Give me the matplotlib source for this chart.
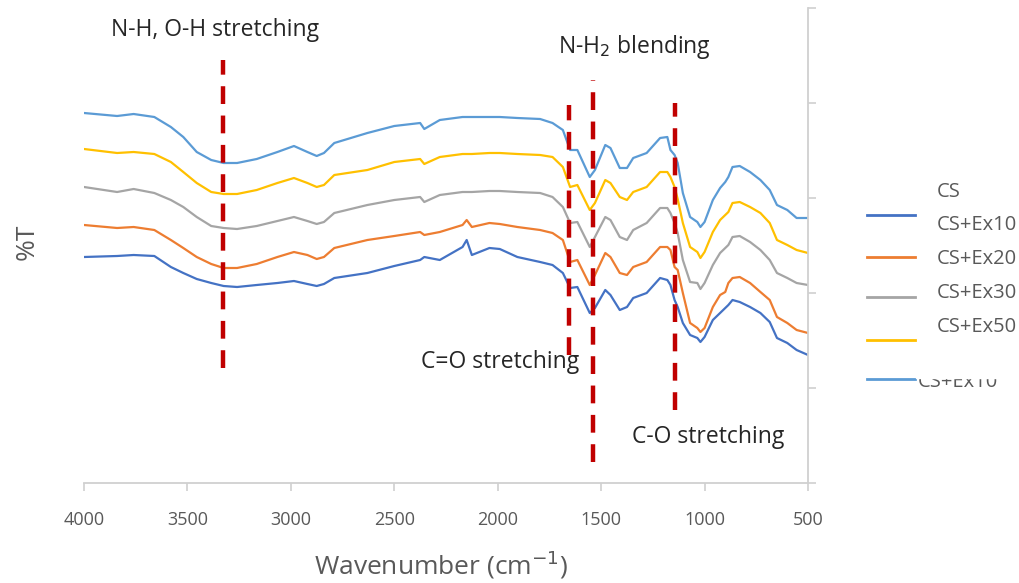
import matplotlib
matplotlib.use('Agg')
import matplotlib.pyplot as plt
from matplotlib.patches import Rectangle
from matplotlib.lines import Line2D

plt.rcParams['font.family'] = ['Open Sans', 'DejaVu Sans']

# wavenumbers (cm-1) where the spectra were read
wavenumber = [4000, 3840, 3760, 3660, 3580, 3520, 3455, 3385, 3325, 3260,
              3165, 3065, 2985, 2920, 2875, 2840, 2790,
              2630, 2500, 2375, 2355, 2280, 2170, 2150, 2125, 2040, 1990,
              1905, 1795, 1735, 1685, 1650, 1615, 1555, 1530, 1480, 1455,
              1410, 1375, 1345, 1280, 1215, 1180,
              1165, 1145, 1130, 1105, 1070, 1035, 1020, 1000, 960, 925,
              900, 885, 865, 830, 780, 730, 685, 650, 600, 555, 500]

# %T (arbitrary offset units, y axis is unlabelled)
cs_ex10 = [226, 227, 228, 227, 216, 210, 204, 200, 197, 196,
           198, 200, 202, 199, 197, 199, 205,
           210, 217, 223, 226, 223, 236, 243, 228, 235, 234,
           226, 221, 218, 210, 195, 196, 170, 175, 193, 188,
           173, 176, 185, 190, 205, 203,
           198, 183, 176, 160, 148, 145, 141, 146, 163, 170,
           175, 178, 183, 181, 176, 170, 161, 145, 140, 133, 128]
cs_ex20 = [258, 255, 256, 253, 243, 235, 226, 219, 215, 215,
           219, 226, 231, 228, 224, 226, 235,
           243, 247, 251, 248, 251, 258, 263, 256, 260, 259,
           256, 253, 250, 243, 221, 223, 198, 208, 230, 226,
           210, 208, 216, 221, 236, 236,
           233, 216, 213, 190, 160, 155, 151, 155, 176, 188,
           191, 200, 205, 206, 200, 191, 183, 166, 160, 153, 150]
cs_ex30 = [296, 291, 294, 290, 283, 276, 266, 257, 255, 254,
           257, 262, 266, 262, 259, 261, 270,
           278, 283, 286, 281, 288, 291, 291, 291, 292, 292,
           291, 290, 286, 276, 260, 261, 236, 246, 266, 263,
           246, 243, 253, 260, 275, 275,
           270, 260, 250, 223, 201, 200, 194, 200, 218, 230,
           235, 238, 246, 247, 241, 233, 223, 210, 205, 200, 198]
cs_ex50 = [334, 330, 331, 329, 321, 311, 300, 291, 289, 289,
           293, 300, 305, 300, 296, 298, 308,
           313, 321, 324, 319, 326, 329, 329, 329, 330, 330,
           329, 328, 326, 316, 296, 298, 273, 280, 303, 300,
           286, 283, 291, 296, 311, 311,
           306, 296, 284, 260, 236, 231, 225, 231, 251, 263,
           268, 271, 280, 281, 276, 270, 260, 243, 238, 233, 230]
cs_ex10b = [370, 367, 369, 366, 356, 346, 331, 323, 320, 320,
            324, 331, 337, 331, 327, 330, 340,
            350, 357, 360, 354, 363, 366, 366, 366, 366, 366,
            365, 364, 360, 353, 333, 333, 306, 313, 338, 335,
            315, 315, 325, 330, 345, 346,
            333, 328, 320, 290, 266, 261, 256, 261, 283, 295,
            301, 306, 316, 317, 311, 303, 293, 278, 273, 265, 265]

series = [cs_ex10, cs_ex20, cs_ex30, cs_ex50, cs_ex10b]
colors = ['#4472C4', '#ED7D31', '#A5A5A5', '#FFC000', '#5B9BD5']
legend_labels = ['CS+Ex10', 'CS+Ex20', 'CS+Ex30', 'CS+Ex50']

# band markers: position, bottom, top
band_pos = [3330, 1655, 1540, 1145]
band_lo = [115, 128, 21, 73]
band_hi = [423, 378, 403, 380]

fig = plt.figure(figsize=(10.19, 5.83), dpi=100)
ax = fig.add_axes([84 / 1019, 100 / 583, 724 / 1019, 475 / 583])

for s, c in zip(series, colors):
    ax.plot(wavenumber, s, color=c, lw=1.6, solid_joinstyle='round')

for x, lo, hi in zip(band_pos, band_lo, band_hi):
    ax.plot([x, x], [lo, hi], color='#C00000', lw=3.2,
            dashes=(4.0, 2.6), zorder=5)

ax.set_xlim(4000, 500)
ax.set_ylim(0, 475)
ax.set_xticks(range(4000, 499, -500))
ax.set_yticks(range(0, 476, 95))
ax.yaxis.tick_right()
ax.set_yticklabels([])

for side in ['top', 'left']:
    ax.spines[side].set_visible(False)
for side in ['bottom', 'right']:
    ax.spines[side].set_color('#D0D0D0')
    ax.spines[side].set_linewidth(1.3)
ax.tick_params(axis='x', colors='#D0D0D0', labelcolor='#595959',
               labelsize=13, length=6, width=1.2, pad=14)
ax.tick_params(axis='y', colors='#D0D0D0', length=6, width=1.2)

# annotations
txt = dict(fontsize=16.5, color='#262626', ha='center', va='center')
ax.text(3367, 453, 'N-H, O-H stretching', **txt)
ax.text(1341, 436, 'N-H$_2$ blending', **txt)
ax.text(1989, 121, 'C=O stretching', **txt)
ax.text(984, 46, 'C-O stretching', **txt)

fig.text(441 / 1019, 1 - 565 / 583, 'Wavenumber (cm$^{-1}$)', fontsize=19,
         color='#595959', ha='center', va='center')
fig.text(27 / 1019, 1 - 242 / 583, '%T', fontsize=19, color='#595959',
         rotation=90, ha='center', va='center')

# legend, drawn as it appears in the source (offset labels)
lx0, lx1, tx = 867 / 1019, 915 / 1019, 937 / 1019
line_y = [215, 257, 297, 340, 379]
text_y = [192, 225, 259, 293, 327]
text_lab = ['CS'] + legend_labels
for c, y in zip(colors, line_y):
    fig.lines.append(Line2D([lx0, lx1], [1 - y / 583, 1 - y / 583],
                            color=c, lw=2, transform=fig.transFigure))
for lab, y in zip(text_lab, text_y):
    fig.text(tx, 1 - y / 583, lab, fontsize=14.5, color='#595959',
             ha='left', va='center')
fig.text(918 / 1019, 1 - 382 / 583, 'CS+Ex10', fontsize=14.5, color='#595959',
         ha='left', va='center')
fig.patches.append(Rectangle((916 / 1019, 1 - 378 / 583), 100 / 1019, 16 / 583,
                             transform=fig.transFigure, color='white',
                             zorder=10))

fig.savefig('out.png', dpi=100)
